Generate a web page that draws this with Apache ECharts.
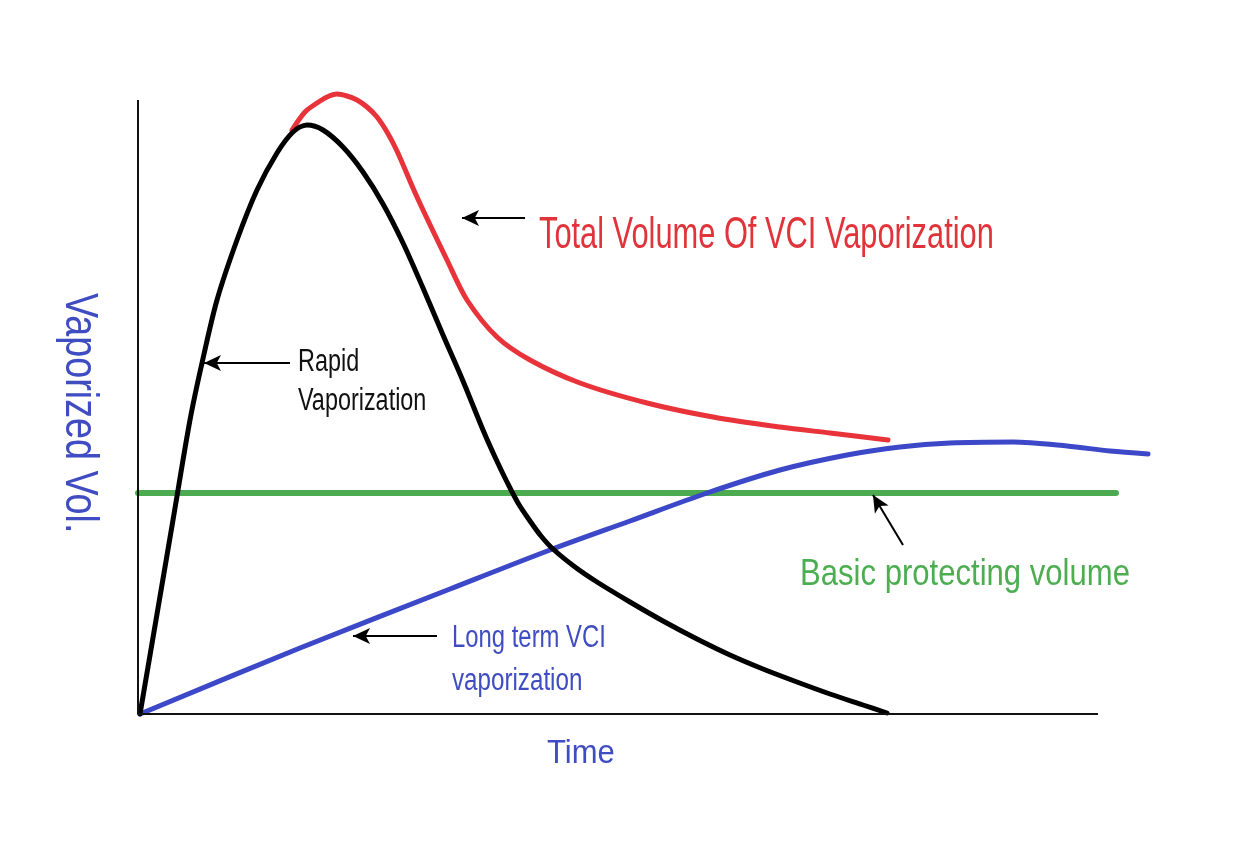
<!DOCTYPE html>
<html>
<head>
<meta charset="utf-8">
<script src="https://cdn.jsdelivr.net/npm/echarts@6/dist/echarts.min.js"></script>
<style>
    html, body { margin: 0; padding: 0; background: #fff; }
    #main { width: 1234px; height: 864px; }
</style>
</head>
<body>
<div id="main"></div>
<script>
// time / volume pairs (arbitrary units)
const rapidVapor = [
    [2, 0], [18, 94], [35, 194], [52, 294], [64, 351], [79, 414], [99, 474],
    [119, 524], [139, 561], [155, 582], [169, 589], [185, 584], [205, 567],
    [225, 542], [245, 510], [265, 471], [285, 426], [305, 379], [325, 333],
    [345, 284], [357, 257], [369, 232], [380, 211], [392, 193], [403, 178],
    [415, 165], [437, 147], [459, 132], [492, 112], [525, 93], [559, 75],
    [592, 59], [625, 45], [659, 32], [692, 20], [725, 9], [749, 1]
]
const totalVapor = [
    [154, 584], [167, 602], [179, 611], [189, 617], [199, 620], [209, 618],
    [219, 614], [229, 607], [239, 597], [249, 582], [259, 563], [279, 517],
    [309, 454], [329, 414], [359, 377], [392, 354], [442, 331], [509, 311],
    [575, 297], [642, 287], [692, 281], [750, 274]
]
const longTermVapor = [
    [2, 0], [162, 66], [312, 125], [412, 164], [492, 193], [569, 221],
    [642, 244], [709, 259], [762, 267], [812, 271], [875, 272], [929, 268],
    [972, 263], [1010, 260]
]
const basicLevel = [[0, 221], [978, 221]]

// axis extent actually drawn in the picture
const timeEnd = 960
const volEnd = 614

const colors = {
    rapid: '#000000',
    total: '#e8333a',
    longTerm: '#3c48c8',
    basic: '#4caa50',
}

// arrows: [tip, tail] in chart units
const arrows = [
    [[324, 496], [387, 496]],
    [[66, 351], [152, 351]],
    [[215, 78], [299, 78]],
    [[735, 219], [765, 169]],
]

// annotation texts: left / baseline anchor in chart units
const notes = [
    { text: 'Total Volume Of VCI Vaporization', at: [401, 465], size: 44, sx: 0.70, color: '#e0343a' },
    { text: 'Rapid', at: [160, 342], size: 31, sx: 0.755, color: '#111' },
    { text: 'Vaporization', at: [160, 303], size: 31, sx: 0.755, color: '#111' },
    { text: 'Long term VCI', at: [314, 66], size: 31, sx: 0.77, color: '#3f4cc2' },
    { text: 'vaporization', at: [314, 23], size: 31, sx: 0.78, color: '#3f4cc2' },
    { text: 'Basic protecting volume', at: [662, 128], size: 37, sx: 0.84, color: '#4cae50' },
    { text: 'Time', at: [409, -50], size: 33, sx: 0.94, color: '#3f4cc2' },
    { text: 'Vaporized Vol.', at: [-73, 421], size: 46, sx: 0.82, color: '#3f4cc2', rot: -90 },
]

const fontFamily = '"Liberation Sans", Arial, sans-serif'

function curve (name, data, color, width) {
    return {
        name: name,
        type: 'line',
        data: data,
        smooth: 0.3,
        symbol: 'none',
        clip: false,
        lineStyle: { color: color, width: width, cap: 'round', join: 'round' },
        z: 3,
    }
}

const hiddenAxis = {
    type: 'value',
    min: 0,
    axisLine: { show: false },
    axisTick: { show: false },
    axisLabel: { show: false },
    splitLine: { show: false },
}

const chart = echarts.init(document.getElementById('main'))

const option = {
    animation: false,
    backgroundColor: '#fff',
    grid: { left: 138, right: 84, top: 88, bottom: 150 },
    xAxis: Object.assign({}, hiddenAxis, { max: 1012 }),
    yAxis: Object.assign({}, hiddenAxis, { max: 626 }),
    series: [
        {
            name: 'axes',
            type: 'line',
            data: [],
            markLine: {
                silent: true,
                symbol: ['none', 'none'],
                label: { show: false },
                lineStyle: { color: '#111', width: 2, type: 'solid' },
                data: [
                    [{ coord: [0, 0] }, { coord: [timeEnd, 0] }],
                    [{ coord: [0, 0] }, { coord: [0, volEnd] }],
                ],
            },
            z: 1,
        },
        curve('Basic protecting volume', basicLevel, colors.basic, 6),
        curve('Long term VCI vaporization', longTermVapor, colors.longTerm, 5),
        curve('Total Volume Of VCI Vaporization', totalVapor, colors.total, 5),
        curve('Rapid Vaporization', rapidVapor, colors.rapid, 5),
        {
            name: 'arrows',
            type: 'line',
            data: [],
            markLine: {
                silent: true,
                symbol: ['arrow', 'none'],
                symbolSize: [12, 17],
                label: { show: false },
                lineStyle: { color: '#000', width: 2, type: 'solid' },
                data: arrows.map(a => [{ coord: a[0] }, { coord: a[1] }]),
            },
        },
    ],
}

chart.setOption(option)

// place the annotation texts from chart units
const graphics = notes.map(n => {
    const p = chart.convertToPixel({ gridIndex: 0 }, n.at)
    return {
        type: 'text',
        x: p[0],
        y: p[1],
        scaleX: n.sx,
        rotation: (n.rot || 0) * Math.PI / 180,
        silent: true,
        style: {
            text: n.text,
            x: 0,
            y: -0.30 * n.size,
            fill: n.color,
            fontSize: n.size,
            fontFamily: fontFamily,
            align: 'left',
            verticalAlign: 'middle',
            textAlign: 'left',
            textVerticalAlign: 'middle',
        },
    }
})

chart.setOption({ graphic: graphics })
</script>
</body>
</html>
